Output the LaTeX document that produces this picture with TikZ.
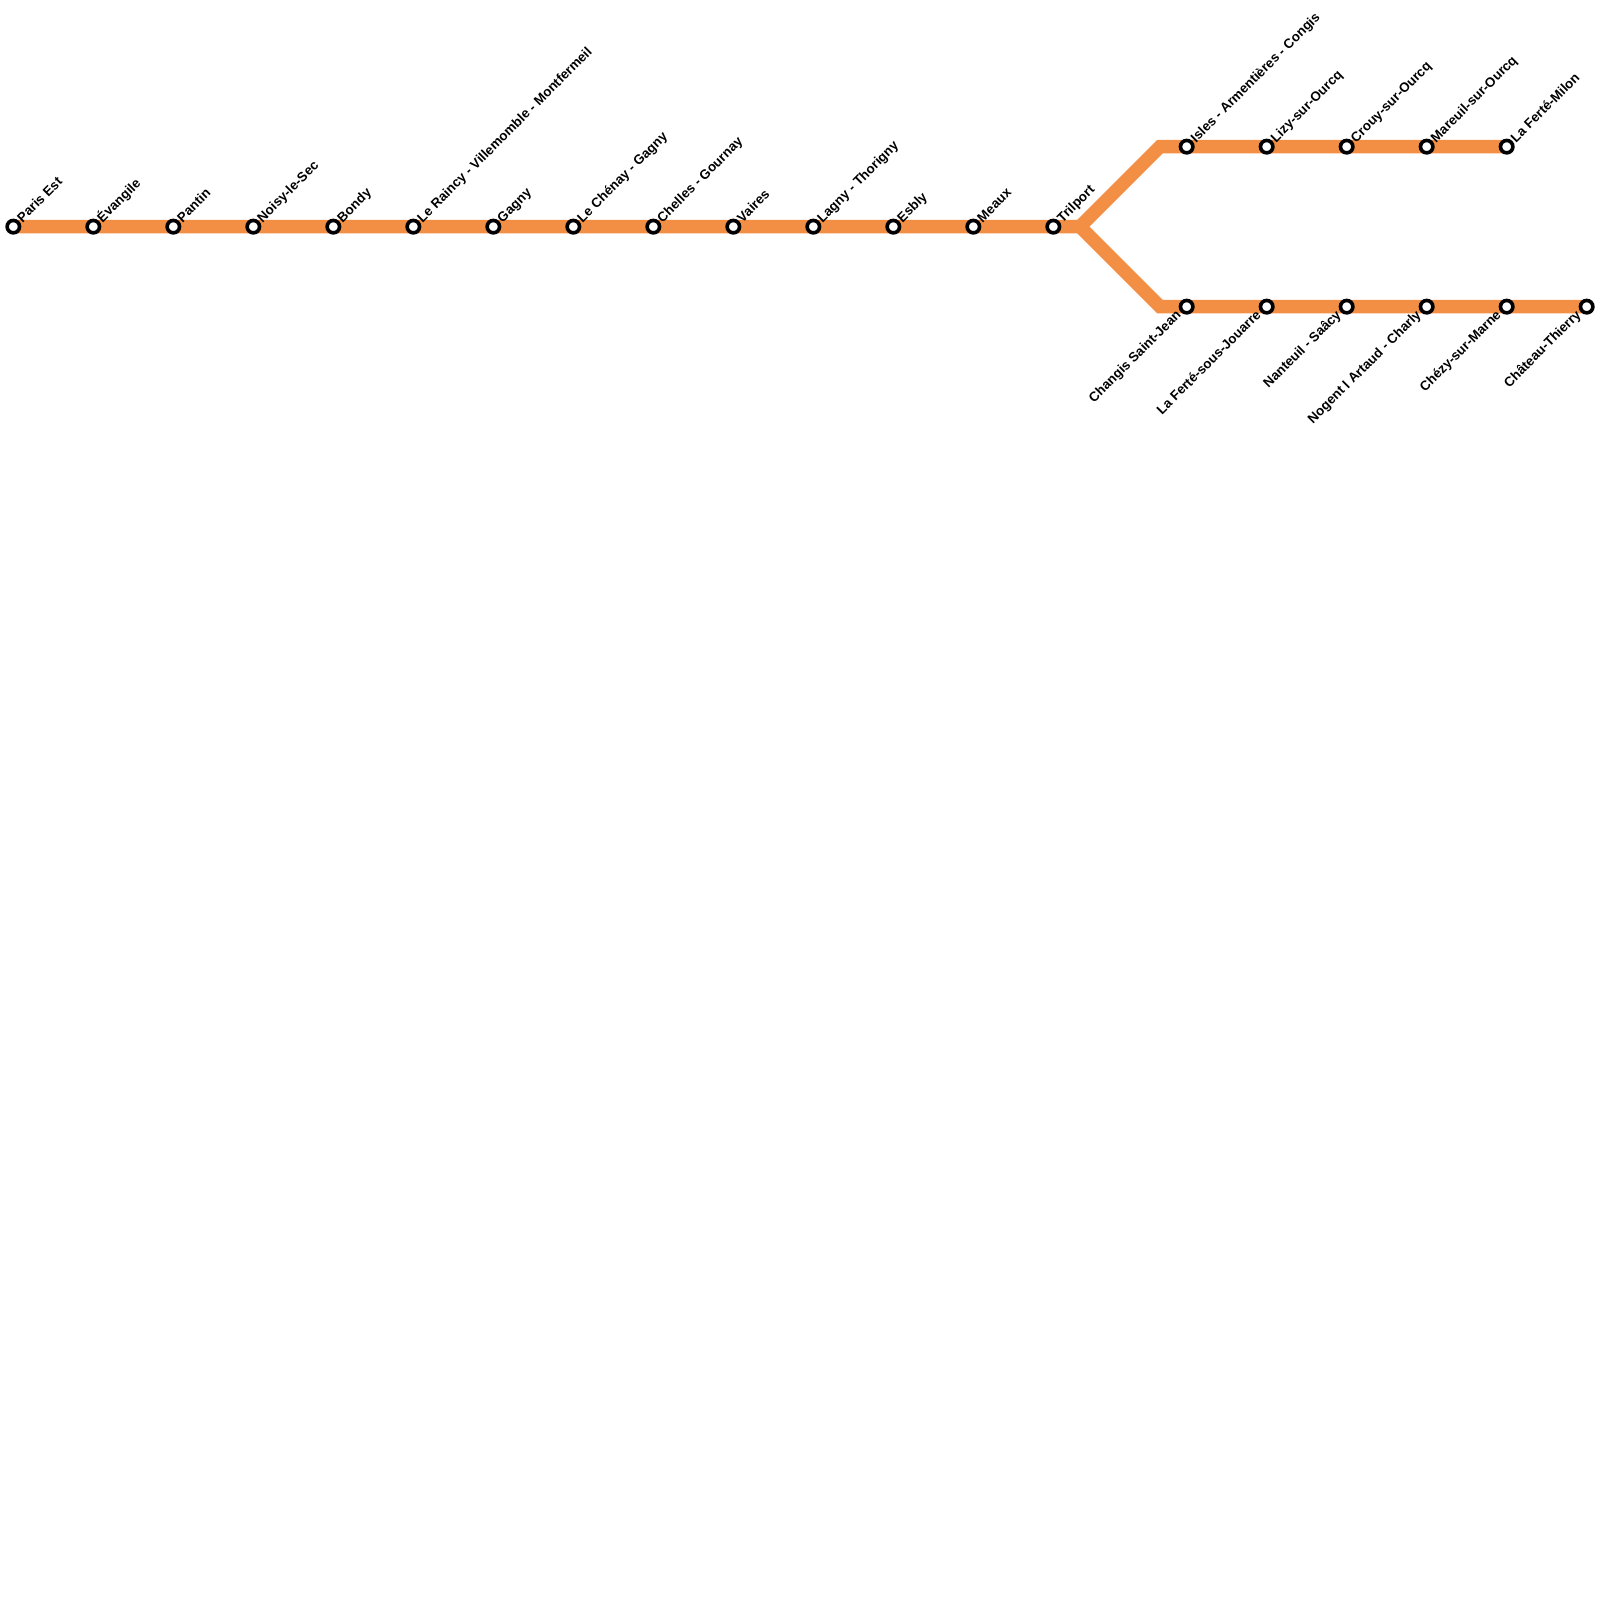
\documentclass[tikz,border=0pt]{standalone}
\usepackage{fontspec}
\setmainfont{Liberation Sans}
\usetikzlibrary{backgrounds}
\definecolor{lineorange}{RGB}{243,143,68}
\tikzset{
  x=1pt,y=1pt,
  metro/.style={draw=lineorange,line width=13.33pt,miter limit=10,line join=miter,line cap=butt},
  station/.style={circle,draw=black,fill=white,line width=3.6pt,minimum size=12.4pt,inner sep=0pt,outer sep=0pt},
  up/.style={rotate=45,anchor=base west,inner sep=0pt,font=\bfseries\fontsize{13.33}{13.33}\selectfont,text=black},
  down/.style={rotate=45,anchor=base east,inner sep=0pt,font=\bfseries\fontsize{13.33}{13.33}\selectfont,text=black},
}
\newcommand{\stup}[4]{\node[station] (#1) at (#2,#3) {}; \node[up] (#1-l) at ([shift={(9.2,3.5)}]#1.center) {#4};}
\newcommand{\stdown}[4]{\node[station] (#1) at (#2,#3) {}; \node[down] (#1-l) at ([shift={(-5,-9)}]#1.center) {#4};}
\begin{document}
\begin{tikzpicture}
\useasboundingbox (0,0) rectangle (1600,1600);
\stup{a}{13.33}{1373.33}{Paris Est}
\stup{b}{93.33}{1373.33}{Évangile}
\stup{c}{173.33}{1373.33}{Pantin}
\stup{d}{253.33}{1373.33}{Noisy-le-Sec}
\stup{e}{333.33}{1373.33}{Bondy}
\stup{f}{413.33}{1373.33}{Le Raincy - Villemomble - Montfermeil}
\stup{g}{493.33}{1373.33}{Gagny}
\stup{h}{573.33}{1373.33}{Le Chénay - Gagny}
\stup{i}{653.33}{1373.33}{Chelles - Gournay}
\stup{j}{733.33}{1373.33}{Vaires}
\stup{k}{813.33}{1373.33}{Lagny - Thorigny}
\stup{m}{893.33}{1373.33}{Esbly}
\stup{n}{973.33}{1373.33}{Meaux}
\stup{o}{1053.33}{1373.33}{Trilport}
\stup{p}{1186.67}{1453.33}{Isles - Armentières - Congis}
\stup{q}{1266.67}{1453.33}{Lizy-sur-Ourcq}
\stup{r}{1346.67}{1453.33}{Crouy-sur-Ourcq}
\stup{s}{1426.67}{1453.33}{Mareuil-sur-Ourcq}
\stup{t}{1506.67}{1453.33}{La Ferté-Milon}
\stdown{u}{1186.67}{1293.33}{Changis Saint-Jean}
\stdown{v}{1266.67}{1293.33}{La Ferté-sous-Jouarre}
\stdown{w}{1346.67}{1293.33}{Nanteuil - Saâcy}
\stdown{y}{1426.67}{1293.33}{Nogent l Artaud - Charly}
\stdown{z}{1506.67}{1293.33}{Chézy-sur-Marne}
\stdown{aa}{1586.67}{1293.33}{Château-Thierry}
\coordinate (fork) at (1080,1373.33);
\coordinate (bendup) at (1160,1453.33);
\coordinate (benddown) at (1160,1293.33);
\begin{pgfonlayer}{background}
\fill[white] (0,0) rectangle (1600,1600);
\draw[metro] (a.center) -- (fork) -- (bendup) -- (t.center);
\draw[metro] (fork) -- (benddown) -- (aa.center);
\end{pgfonlayer}
\end{tikzpicture}
\end{document}
